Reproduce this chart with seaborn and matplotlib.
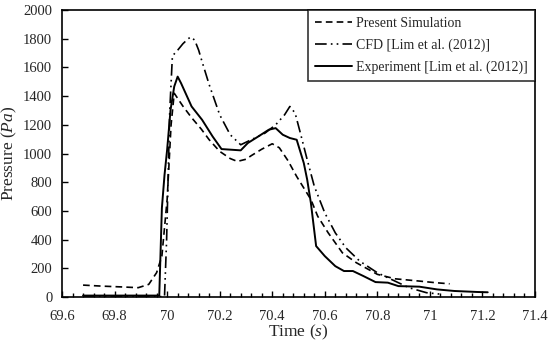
import numpy as np
import pandas as pd
import seaborn as sns
import matplotlib.pyplot as plt
from matplotlib.ticker import MultipleLocator, FormatStrFormatter

sns.set_style("white")
plt.rcParams['font.family'] = ['Liberation Serif', 'DejaVu Serif']
plt.rcParams['mathtext.fontset'] = 'custom'
plt.rcParams['mathtext.it'] = 'Liberation Serif:italic'
plt.rcParams['mathtext.rm'] = 'Liberation Serif'

# Present Simulation
sim_t = [69.68, 69.75, 69.83, 69.89, 69.93, 69.96, 69.98, 70.0, 70.015, 70.027,
         70.06, 70.093, 70.13, 70.16, 70.2, 70.24, 70.267, 70.3, 70.32, 70.36,
         70.4, 70.427, 70.46, 70.493, 70.52, 70.547, 70.573, 70.613, 70.667,
         70.72, 70.8, 70.867, 70.96, 71.02, 71.075]
sim_p = [83, 76, 70, 65, 88, 170, 285, 680, 1200, 1420,
         1330, 1250, 1170, 1096, 1015, 965, 945, 960, 985, 1030,
         1068, 1040, 950, 840, 760, 680, 563, 447, 308,
         239, 158, 127, 111, 100, 92]

# CFD [Lim et al. (2012)]
cfd_t = [69.68, 69.8, 69.9, 69.99, 69.998, 70.01, 70.02, 70.04, 70.06, 70.08, 70.09,
         70.105, 70.12, 70.133, 70.16, 70.2, 70.24, 70.28, 70.32, 70.373, 70.413,
         70.447, 70.467, 70.487, 70.507, 70.533, 70.56, 70.6, 70.64, 70.68,
         70.733, 70.8, 70.867, 70.92, 70.987, 71.05]
cfd_p = [3, 3, 3, 3, 400, 1300, 1680, 1720, 1765, 1800, 1812,
         1790, 1720, 1640, 1480, 1270, 1131, 1061, 1096, 1143, 1200,
         1270, 1328, 1282, 1143, 957, 772, 586, 447, 343,
         250, 169, 111, 65, 30, 18]

# Experiment [Lim et al. (2012)]
exp_t = [69.68, 69.8, 69.9, 69.97, 69.98, 69.99, 70.0, 70.013, 70.027, 70.04,
         70.053, 70.093, 70.133, 70.173, 70.207, 70.24, 70.28, 70.307, 70.347,
         70.387, 70.413, 70.44, 70.467, 70.493, 70.52, 70.533, 70.547, 70.567,
         70.6, 70.64, 70.673, 70.707, 70.747, 70.793, 70.84, 70.88, 70.96,
         71.027, 71.093, 71.18, 71.22]
exp_p = [10, 10, 10, 10, 620, 850, 1027, 1305, 1467, 1536,
         1490, 1328, 1235, 1119, 1031, 1027, 1022, 1073, 1119,
         1166, 1177, 1131, 1108, 1096, 934, 818, 656, 355,
         285, 215, 181, 181, 146, 104, 100, 76, 72,
         53, 42, 35, 33]

fig = plt.figure(figsize=(5.49, 3.46), dpi=100)
ax = fig.add_axes([0.113, 0.1416, 0.8615, 0.8294])

sns.lineplot(x=sim_t, y=sim_p, ax=ax, sort=False, estimator=None, color='black',
             linewidth=1.2, linestyle=(0, (4, 2.5)), label='Present Simulation')
sns.lineplot(x=cfd_t, y=cfd_p, ax=ax, sort=False, estimator=None, color='black',
             linewidth=1.2, linestyle=(0, (7, 2.5, 1, 2.5, 1, 2.5)),
             label='CFD [Lim et al. (2012)]')
sns.lineplot(x=exp_t, y=exp_p, ax=ax, sort=False, estimator=None, color='black',
             linewidth=1.4, linestyle='-', label='Experiment [Lim et al. (2012)]')

ax.set_xlim(69.6, 71.4)
ax.set_ylim(0, 2000)
ax.xaxis.set_major_locator(MultipleLocator(0.2))
ax.xaxis.set_minor_locator(MultipleLocator(0.04))
ax.xaxis.set_major_formatter(FormatStrFormatter('%g'))
ax.yaxis.set_major_locator(MultipleLocator(200))
ax.tick_params(axis='both', which='both', direction='in', color='black',
               bottom=True, left=True)
ax.tick_params(which='major', length=4, width=1, labelsize=10.5, pad=7)
ax.tick_params(axis='x', which='major', pad=9)
ax.tick_params(which='minor', length=3, width=1)
for s in ax.spines.values():
    s.set_color('black')
    s.set_linewidth(1.2)

ax.set_xlabel('Time ($\\mathit{s}$)', fontsize=12.5)
ax.set_ylabel('Pressure ($\\mathit{Pa}$)', fontsize=12.5)
ax.xaxis.set_label_coords(0.5, -0.09)
ax.yaxis.set_label_coords(-0.09, 0.5)

leg = ax.legend(loc='upper right', fontsize=10, frameon=True, fancybox=False,
                edgecolor='black', handlelength=2.7, borderaxespad=0,
                handletextpad=0.3, labelspacing=0.6, borderpad=0.5)
leg.get_frame().set_linewidth(1.2)

fig.savefig('out.png', dpi=100)
